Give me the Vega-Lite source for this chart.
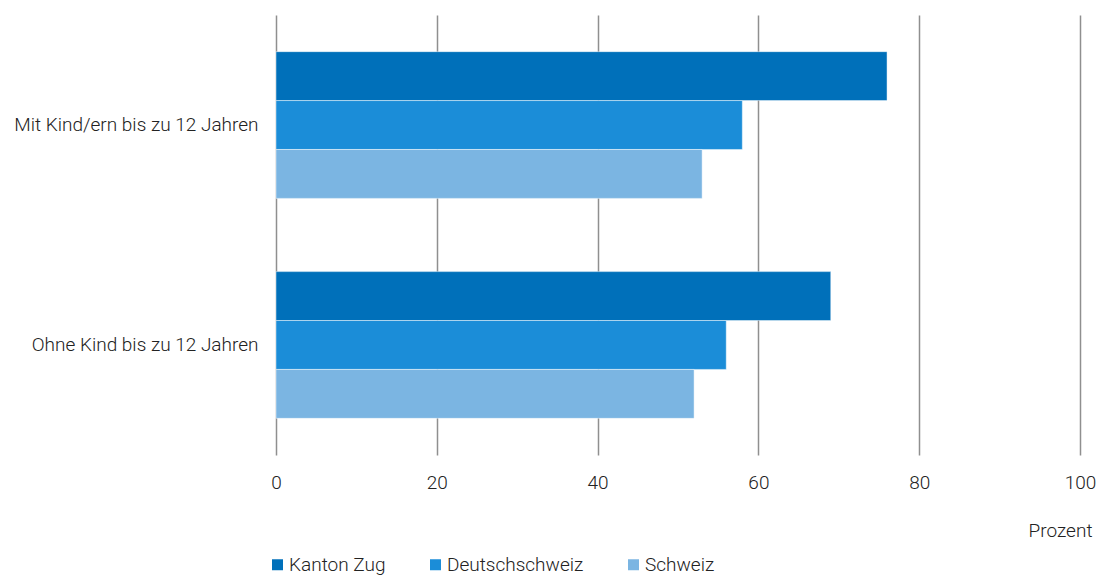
{
  "$schema": "https://vega.github.io/schema/vega-lite/v6.json",
  "width": 804,
  "height": 440,
  "autosize": {"type": "none"},
  "padding": {"left": 276, "top": 15, "right": 18, "bottom": 122},
  "background": "#ffffff",
  "data": {
    "values": [
      {"gruppe": "Mit Kind/ern bis zu 12 Jahren", "region": "Kanton Zug", "wert": 76},
      {"gruppe": "Mit Kind/ern bis zu 12 Jahren", "region": "Deutschschweiz", "wert": 58},
      {"gruppe": "Mit Kind/ern bis zu 12 Jahren", "region": "Schweiz", "wert": 53},
      {"gruppe": "Ohne Kind bis zu 12 Jahren", "region": "Kanton Zug", "wert": 69},
      {"gruppe": "Ohne Kind bis zu 12 Jahren", "region": "Deutschschweiz", "wert": 56},
      {"gruppe": "Ohne Kind bis zu 12 Jahren", "region": "Schweiz", "wert": 52}
    ]
  },
  "config": {
    "font": "Roboto",
    "view": {"stroke": null}
  },
  "mark": {"type": "bar", "stroke": "#ffffff", "strokeOpacity": 0.45, "strokeWidth": 1},
  "encoding": {
    "y": {
      "field": "gruppe",
      "type": "nominal",
      "sort": null,
      "scale": {"paddingInner": 0.333, "paddingOuter": 0.1667},
      "axis": {
        "title": null,
        "domain": false,
        "ticks": false,
        "labelFontSize": 19,
        "labelFontWeight": 300,
        "labelColor": "#222222",
        "labelPadding": 18,
        "labelLimit": 400,
        "labelFont": "Roboto"
      }
    },
    "yOffset": {
      "field": "region",
      "type": "nominal",
      "sort": ["Kanton Zug", "Deutschschweiz", "Schweiz"],
      "scale": {"paddingInner": 0, "paddingOuter": 0}
    },
    "x": {
      "field": "wert",
      "type": "quantitative",
      "scale": {"domain": [0, 100], "nice": false},
      "axis": {
        "values": [0, 20, 40, 60, 80, 100],
        "domain": false,
        "ticks": false,
        "grid": true,
        "gridColor": "#8f8f8f",
        "gridWidth": 1.5,
        "labelFontSize": 19,
        "labelFontWeight": 300,
        "labelColor": "#222222",
        "labelPadding": 18,
        "labelFlush": false,
        "title": "Prozent",
        "titleFontSize": 19,
        "titleFontWeight": 300,
        "titleColor": "#222222",
        "titleAnchor": "end",
        "titleAlign": "right",
        "titleBaseline": "alphabetic",
        "titleX": 816,
        "titleY": 81
      }
    },
    "color": {
      "field": "region",
      "type": "nominal",
      "sort": ["Kanton Zug", "Deutschschweiz", "Schweiz"],
      "scale": {
        "domain": ["Kanton Zug", "Deutschschweiz", "Schweiz"],
        "range": ["#0070ba", "#1b8dd8", "#7bb5e2"]
      },
      "legend": {
        "title": null,
        "orient": "none",
        "direction": "horizontal",
        "columns": 3,
        "legendX": -8,
        "legendY": 540,
        "symbolType": "square",
        "symbolSize": 121,
        "symbolStrokeWidth": 0,
        "labelFontSize": 19,
        "labelFontWeight": 300,
        "labelColor": "#222222",
        "labelOffset": 2,
        "labelLimit": 300,
        "columnPadding": 40
      }
    }
  }
}
